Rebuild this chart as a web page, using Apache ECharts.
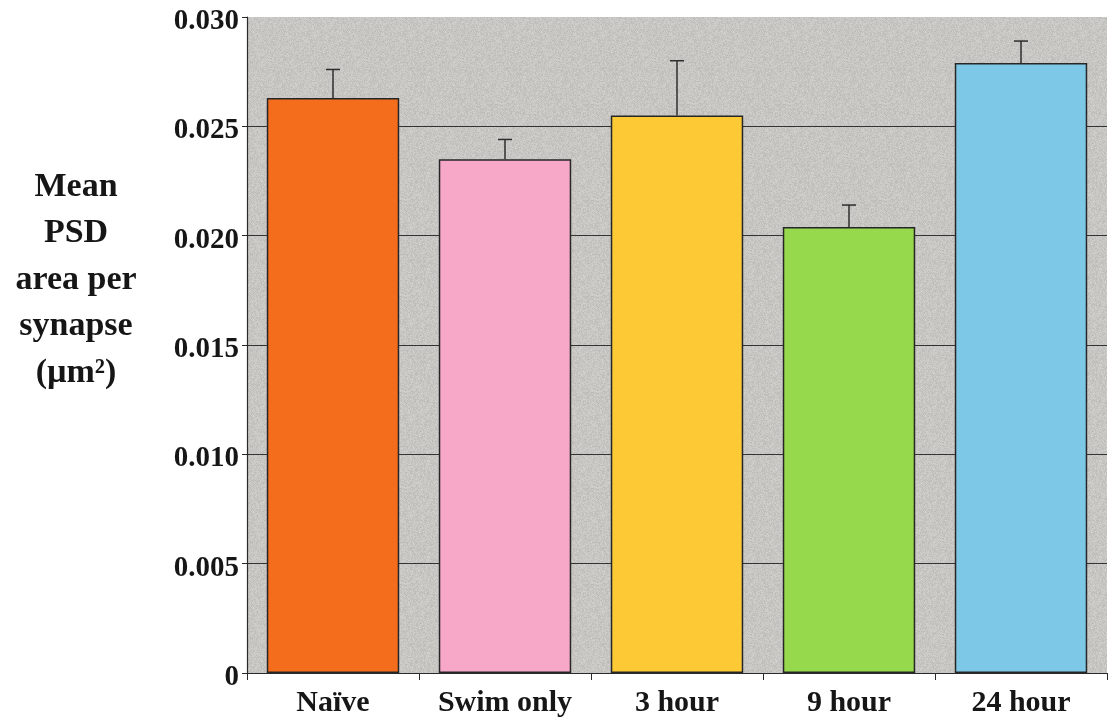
<!DOCTYPE html>
<html>
<head>
<meta charset="utf-8">
<script src="https://cdn.jsdelivr.net/npm/echarts@6/dist/echarts.min.js"></script>
<style>
  html, body { margin: 0; padding: 0; background: #ffffff; }
  #chart { width: 1111px; height: 722px; }
</style>
</head>
<body>
<div id="chart"></div>
<script>
// Group names along the x axis
const categories = ['Naïve', 'Swim only', '3 hour', '9 hour', '24 hour'];
// Mean PSD area per synapse (µm²)
const meanArea = [0.0263, 0.0235, 0.0255, 0.0204, 0.0279];
// Standard error of each mean (drawn upward only)
const semArea = [0.0013, 0.0009, 0.0025, 0.0010, 0.0010];
// Fill colour of each group's bar
const barColors = ['#f46d1d', '#f7a8c9', '#fdc934', '#97d94c', '#7ec8e7'];
// Y axis tick values
const yTicks = [0, 0.005, 0.010, 0.015, 0.020, 0.025, 0.030];
// Y axis title, one entry per line
const yTitleLines = ['Mean', 'PSD', 'area per', 'synapse', '(µm²)'];

const serif = '"Liberation Serif", "Times New Roman", serif';
const ink = '#161616';

// Speckled grey paper fill for the plot area (deterministic grain)
function grainTile() {
  const size = 96;
  const c = document.createElement('canvas');
  c.width = size; c.height = size;
  const ctx = c.getContext('2d');
  const img = ctx.createImageData(size, size);
  let s = 12345;
  const next = () => { s = (s * 1103515245 + 12345) & 0x7fffffff; return s / 0x7fffffff; };
  for (let p = 0; p < size * size; p++) {
    const d = (next() - 0.5) * 22;
    img.data[p * 4] = 200 + d;
    img.data[p * 4 + 1] = 198 + d;
    img.data[p * 4 + 2] = 195 + d;
    img.data[p * 4 + 3] = 255;
  }
  ctx.putImageData(img, 0, 0);
  return c;
}

const chart = echarts.init(document.getElementById('chart'), null, { renderer: 'canvas' });

const barData = meanArea.map((v, i) => ({
  value: v,
  itemStyle: { color: barColors[i] }
}));
const errData = meanArea.map((v, i) => [i, v, v + semArea[i]]);

// Gridlines drawn at every tick except the top edge
const splitColors = yTicks.map((t, i) => (i === yTicks.length - 1 ? 'rgba(0,0,0,0)' : '#333333'));

const option = {
  animation: false,
  backgroundColor: '#ffffff',
  grid: {
    show: true,
    backgroundColor: { image: grainTile(), repeat: 'repeat' },
    borderWidth: 0,
    left: 247, top: 17, right: 4, bottom: 49
  },
  xAxis: {
    type: 'category',
    data: categories,
    axisLine: { show: true, lineStyle: { color: '#2a2a2a', width: 1.2 } },
    axisTick: { show: true, length: 7, inside: false, lineStyle: { color: '#2a2a2a' } },
    axisLabel: {
      interval: 0,
      margin: 15,
      fontFamily: serif,
      fontWeight: 'bold',
      fontSize: 30,
      color: ink
    },
    splitLine: { show: false }
  },
  yAxis: {
    type: 'value',
    min: yTicks[0],
    max: yTicks[yTicks.length - 1],
    interval: yTicks[1] - yTicks[0],
    axisLine: { show: true, lineStyle: { color: '#2a2a2a', width: 1.2 } },
    axisTick: { show: true, length: 5, lineStyle: { color: '#2a2a2a' } },
    axisLabel: {
      margin: 8,
      fontFamily: serif,
      fontWeight: 'bold',
      fontSize: 29,
      color: ink,
      formatter: v => '{t|' + (v === 0 ? '0' : v.toFixed(3)) + '}',
      rich: {
        t: {
          padding: [9, 0, 0, 0],
          fontFamily: serif,
          fontWeight: 'bold',
          fontSize: 29,
          color: ink
        }
      }
    },
    splitLine: { show: true, lineStyle: { color: splitColors, width: 1.2 } }
  },
  series: [
    {
      type: 'bar',
      data: barData,
      barCategoryGap: '23%',
      itemStyle: { borderColor: '#262626', borderWidth: 1.5 },
      z: 2
    },
    {
      type: 'custom',
      data: errData,
      z: 3,
      renderItem: (params, api) => {
        const idx = api.value(0);
        const base = api.coord([idx, api.value(1)]);
        const top = api.coord([idx, api.value(2)]);
        const half = 7;
        const style = { stroke: '#2e2e2e', lineWidth: 1.5 };
        return {
          type: 'group',
          children: [
            { type: 'line', shape: { x1: base[0], y1: base[1], x2: top[0], y2: top[1] }, style },
            { type: 'line', shape: { x1: top[0] - half, y1: top[1], x2: top[0] + half, y2: top[1] }, style }
          ]
        };
      }
    }
  ],
  graphic: yTitleLines.map((line, i) => ({
    type: 'text',
    x: 76,
    y: 187 + i * 46.5,
    style: {
      text: line,
      align: 'center',
      verticalAlign: 'middle',
      fontFamily: serif,
      fontWeight: 'bold',
      fontSize: 34,
      fill: ink
    }
  }))
};

chart.setOption(option);
</script>
</body>
</html>
